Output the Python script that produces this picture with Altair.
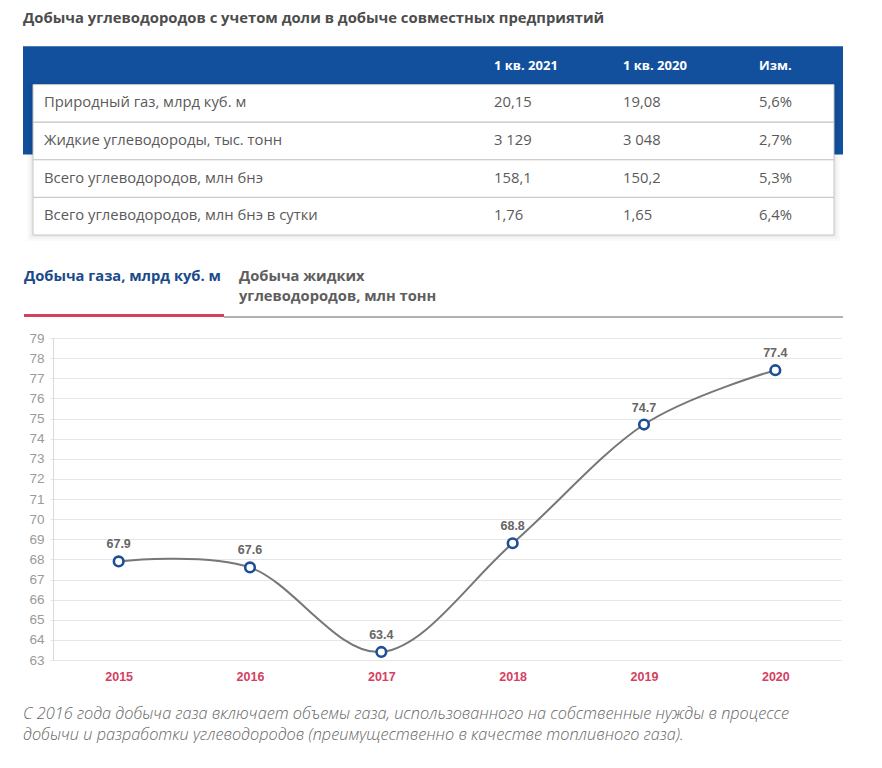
import altair as alt
import pandas as pd

# ---------------- data ----------------
TITLE = "Добыча углеводородов с учетом доли в добыче совместных предприятий"
table_header = ["1 кв. 2021", "1 кв. 2020", "Изм."]
row_labels = [
    "Природный газ, млрд куб. м",
    "Жидкие углеводороды, тыс. тонн",
    "Всего углеводородов, млн бнэ",
    "Всего углеводородов, млн бнэ в сутки",
]
q1_2021 = ["20,15", "3 129", "158,1", "1,76"]
q1_2020 = ["19,08", "3 048", "150,2", "1,65"]
change = ["5,6%", "2,7%", "5,3%", "6,4%"]

tab_labels = ["Добыча газа, млрд куб. м", "Добыча жидких\nуглеводородов, млн тонн"]
tab_active = ["yes", "no"]

years = ["2015", "2016", "2017", "2018", "2019", "2020"]
gas = [67.9, 67.6, 63.4, 68.8, 74.7, 77.4]
y_ticks = list(range(63, 80))

FOOTNOTE = [
    "С 2016 года добыча газа включает объемы газа, использованного на собственные нужды в процессе",
    "добычи и разработки углеводородов (преимущественно в качестве топливного газа).",
]

# ---------------- layout / style ----------------
FONT = "Open Sans"
NUM_FONT = "Liberation Sans"
BLUE = "#12509e"
TAB_BLUE = "#1b4a8a"
RED = "#d5405f"
W = 820          # full width of the table block
SHIFT = 30       # plot area of the line chart starts 30px right of the table block
ROW_H = 37.6
T_ROWS = 5.25
COLS = ["label", "q21", "q20", "chg"]
COL_X = dict(zip(COLS, [21, 471, 600, 736]))
TAB_X = [1, 216]
CARD_X = (10, 811)

xscale = alt.Scale(domain=[SHIFT, W], nice=False, zero=False)
yscale = alt.Scale(domain=[0, T_ROWS], reverse=True, nice=False, zero=False)

# ---------------- table ----------------
cells = []
for c, t in zip(COLS[1:], table_header):
    cells.append({"row": 0, "col": c, "text": t, "kind": "head"})
for i, (lab, a, b, d) in enumerate(zip(row_labels, q1_2021, q1_2020, change)):
    for c, t in zip(COLS, [lab, a, b, d]):
        cells.append({"row": i + 1, "col": c, "text": t, "kind": "body"})
cells_df = pd.DataFrame(cells)
cells_df["yc"] = cells_df["row"] + 0.5
cells_df["xp"] = cells_df["col"].map(COL_X)
rows_df = pd.DataFrame({"row": list(range(1, len(row_labels) + 1))})
rows_df["row2"] = rows_df["row"] + 1
rows_df["x0"] = CARD_X[0]
rows_df["x1"] = CARD_X[1]

blue = alt.Chart(pd.DataFrame({"x0": [0], "x1": [W], "a": [-0.02], "b": [2.86]})).mark_rect(color=BLUE).encode(
    x=alt.X("x0:Q", scale=xscale, axis=None), x2="x1:Q",
    y=alt.Y("a:Q", scale=yscale, axis=None), y2="b:Q",
)

card = pd.DataFrame({"x0": [CARD_X[0]], "x1": [CARD_X[1]], "a": [1], "b": [5]})
shadows = []
for sw, op in [(12, 0.018), (8, 0.025), (4, 0.035)]:
    shadows.append(
        alt.Chart(card).mark_rect(fill="transparent", stroke="#000", strokeWidth=sw,
                                  strokeOpacity=op, yOffset=3).encode(
            x=alt.X("x0:Q", scale=xscale, axis=None), x2="x1:Q",
            y=alt.Y("a:Q", scale=yscale, axis=None), y2="b:Q",
        )
    )

row_rects = alt.Chart(rows_df).mark_rect(fill="white", stroke="#c6c6c6", strokeWidth=1).encode(
    x=alt.X("x0:Q", scale=xscale, axis=None), x2="x1:Q",
    y=alt.Y("row:Q", scale=yscale, axis=None), y2="row2:Q",
)

xcol = alt.X("xp:Q", scale=xscale, axis=None)
head_text = alt.Chart(cells_df).transform_filter("datum.kind == 'head'").mark_text(
    align="left", baseline="middle", font=FONT, fontSize=13, fontWeight="bold", color="white"
).encode(x=xcol, y=alt.Y("yc:Q", scale=yscale, axis=None), text="text:N")
body_text = alt.Chart(cells_df).transform_filter("datum.kind == 'body'").mark_text(
    align="left", baseline="middle", font=FONT, fontSize=14.8, color="#5a5a5a"
).encode(x=xcol, y=alt.Y("yc:Q", scale=yscale, axis=None), text="text:N")

table = alt.layer(blue, *shadows, row_rects, head_text, body_text).properties(
    width=W - SHIFT, height=ROW_H * T_ROWS,
    title=alt.TitleParams(TITLE, anchor="start", frame="group", dx=-SHIFT, font=FONT,
                          fontSize=14.8, fontWeight="bold", color="#4d4d4d", offset=20),
)

# ---------------- tabs ----------------
tabs_df = pd.DataFrame({"tab": tab_labels, "active": tab_active, "xp": TAB_X})
tab_text = alt.Chart(tabs_df).mark_text(
    align="left", baseline="top", font=FONT, fontSize=14.7, fontWeight="bold",
    lineBreak="\n", lineHeight=20,
).encode(
    x=alt.X("xp:Q", scale=xscale, axis=None),
    y=alt.value(23.5),
    text="tab:N",
    color=alt.Color("active:N", scale=alt.Scale(domain=["yes", "no"], range=[TAB_BLUE, "#5e5e5e"]), legend=None),
)
gray_rule = alt.Chart(pd.DataFrame({"x0": [201], "x1": [W]})).mark_rule(color="#666", strokeWidth=1).encode(
    x=alt.X("x0:Q", scale=xscale, axis=None), x2="x1:Q", y=alt.value(72)
)
red_rule = alt.Chart(pd.DataFrame({"x0": [1], "x1": [201]})).mark_rule(color=RED, strokeWidth=3).encode(
    x=alt.X("x0:Q", scale=xscale, axis=None), x2="x1:Q", y=alt.value(70.5)
)
tabs = alt.layer(gray_rule, red_rule, tab_text).properties(width=W - SHIFT, height=85.2)

# ---------------- line chart ----------------
df = pd.DataFrame({"year": years, "value": gas})
base = alt.Chart(df).encode(
    x=alt.X("year:O", scale=alt.Scale(type="point", padding=0.5),
            axis=alt.Axis(title=None, labelAngle=0, labelColor=RED, labelFontWeight="bold",
                          labelFont=NUM_FONT, labelFontSize=12.5, labelPadding=10,
                          ticks=False, domain=False, grid=False)),
    y=alt.Y("value:Q", scale=alt.Scale(domain=[63, 79], nice=False, zero=False),
            axis=alt.Axis(title=None, values=y_ticks, format="d", labelColor="#9a9a9a",
                          labelFont=NUM_FONT, labelFontSize=13.5, labelPadding=6,
                          grid=True, gridColor="#e6e6e6", domainColor="#dadada",
                          tickColor="#e6e6e6", tickSize=3)),
)
line = base.mark_line(interpolate="cardinal", color="#777", strokeWidth=2)
pts = base.mark_point(shape="circle", filled=True, fill="white", stroke="#1c4f96",
                      strokeWidth=2.6, size=92, opacity=1)
lbl = base.mark_text(dy=-17, font=NUM_FONT, fontWeight="bold", fontSize=12.5, color="#666").encode(
    text=alt.Text("value:Q", format=".1f")
)
chart_line = alt.layer(line, pts, lbl).properties(
    width=788, height=322,
    title=alt.TitleParams(FOOTNOTE, orient="bottom", anchor="start", frame="group", dx=-SHIFT,
                          offset=23, font=FONT, fontSize=16.3, fontStyle="italic", fontWeight=300,
                          color="#666", lineHeight=21),
)

chart = alt.vconcat(table, tabs, chart_line, spacing=0).properties(
    padding={"left": 14, "top": 3, "right": 0, "bottom": 0}
).configure_view(stroke=None)

chart.save("out.html", embed_options={"renderer": "svg", "actions": False})
